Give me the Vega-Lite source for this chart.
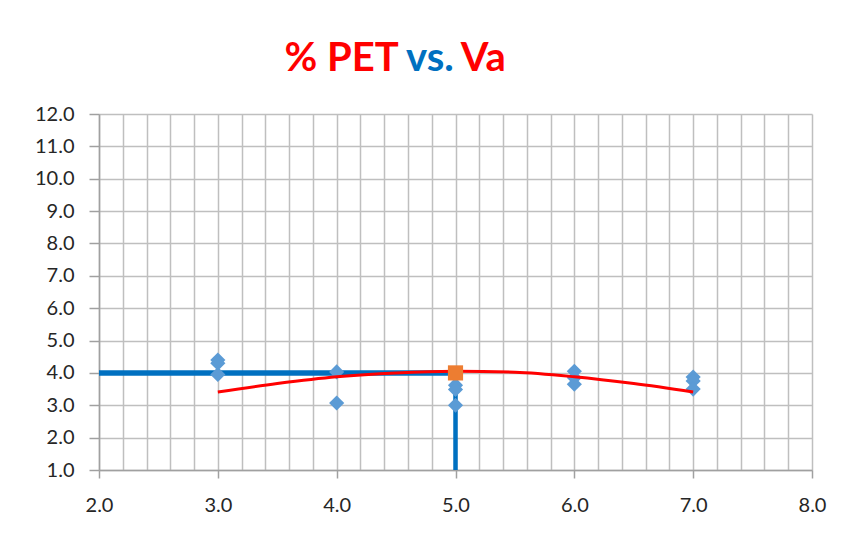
{
  "$schema": "https://vega.github.io/schema/vega-lite/v6.json",
  "width": 713,
  "height": 356,
  "autosize": {"type": "none"},
  "padding": {"left": 99, "top": 114, "right": 37, "bottom": 64},
  "background": "#ffffff",
  "title": {
    "text": "% PET\u00a0\u00a0\u00a0\u00a0\u00a0\u00a0\u2009Va",
    "subtitle": "\u200b\u00a0\u00a0\u00a0\u00a0\u00a0\u00a0\u00a0\u00a0\u00a0\u00a0\u00a0\u00a0\u2009vs.",
    "anchor": "start",
    "align": "left",
    "dx": 250,
    "dy": 15,
    "font": "Lato",
    "fontSize": 40,
    "fontWeight": "bold",
    "color": "#ff0000",
    "subtitleFont": "Lato",
    "subtitleFontSize": 40,
    "subtitleFontWeight": "bold",
    "subtitleColor": "#0070c0",
    "subtitlePadding": -40,
    "offset": 40
  },
  "datasets": {
    "points": [
      {"x": 3, "y": 4.4}, {"x": 3, "y": 4.3}, {"x": 3, "y": 3.95},
      {"x": 4, "y": 4.03}, {"x": 4, "y": 3.07},
      {"x": 5, "y": 3.62}, {"x": 5, "y": 3.49}, {"x": 5, "y": 3.0},
      {"x": 6, "y": 4.05}, {"x": 6, "y": 3.85}, {"x": 6, "y": 3.65},
      {"x": 7, "y": 3.87}, {"x": 7, "y": 3.75}, {"x": 7, "y": 3.5}
    ],
    "target": [{"x": 5, "y": 4.0}],
    "hline": [{"x": 2, "x2": 5, "y": 4.0}],
    "vline": [{"x": 5, "y": 1.0, "y2": 4.0}],
    "curve": [
      {"x": 3, "y": 3.41}, {"x": 3.5, "y": 3.67}, {"x": 4, "y": 3.88},
      {"x": 4.5, "y": 4.0}, {"x": 5, "y": 4.05}, {"x": 5.5, "y": 4.02},
      {"x": 6, "y": 3.88}, {"x": 6.5, "y": 3.67}, {"x": 7, "y": 3.41}
    ]
  },
  "encoding": {
    "x": {
      "field": "x", "type": "quantitative",
      "scale": {"domain": [2, 8], "nice": false, "zero": false},
      "axis": {
        "title": null,
        "values": [2, 2.2, 2.4, 2.6, 2.8, 3, 3.2, 3.4, 3.6, 3.8, 4, 4.2, 4.4, 4.6, 4.8, 5, 5.2, 5.4, 5.6, 5.8, 6, 6.2, 6.4, 6.6, 6.8, 7, 7.2, 7.4, 7.6, 7.8, 8],
        "format": ".1f",
        "labelExpr": "abs(datum.value - round(datum.value)) < 0.01 ? datum.label : ''",
        "labelOverlap": false,
        "labelFlush": false,
        "tickOpacity": {"condition": {"test": "abs(datum.value - round(datum.value)) < 0.01", "value": 1}, "value": 0},
        "tickSize": 8,
        "labelPadding": 17
      }
    },
    "y": {
      "field": "y", "type": "quantitative",
      "scale": {"domain": [1, 12], "nice": false, "zero": false},
      "axis": {
        "title": null,
        "values": [1, 2, 3, 4, 5, 6, 7, 8, 9, 10, 11, 12],
        "format": ".1f",
        "tickSize": 10,
        "labelPadding": 15
      }
    }
  },
  "layer": [
    {
      "data": {"name": "hline"},
      "mark": {"type": "rule", "color": "#0070c0", "strokeWidth": 5.5, "strokeCap": "butt"},
      "encoding": {"x2": {"field": "x2"}}
    },
    {
      "data": {"name": "vline"},
      "mark": {"type": "rule", "color": "#0070c0", "strokeWidth": 4.5, "strokeCap": "butt"},
      "encoding": {"y2": {"field": "y2"}}
    },
    {
      "data": {"name": "points"},
      "mark": {"type": "point", "shape": "diamond", "filled": true, "color": "#5b9bd5", "opacity": 1, "size": 230}
    },
    {
      "data": {"name": "curve"},
      "mark": {"type": "line", "color": "#ff0000", "strokeWidth": 3, "interpolate": "monotone"}
    },
    {
      "data": {"name": "target"},
      "mark": {"type": "point", "shape": "square", "filled": true, "color": "#ed7d31", "opacity": 1, "size": 230}
    }
  ],
  "config": {
    "view": {"stroke": null},
    "axis": {
      "labelFont": "Lato",
      "labelFontSize": 20,
      "labelColor": "#262626",
      "gridColor": "#bfbfbf",
      "gridWidth": 1.5,
      "gridOpacity": 1,
      "domainColor": "#a0a0a0",
      "domainWidth": 1.5,
      "tickColor": "#a0a0a0",
      "tickWidth": 1.5
    }
  }
}
